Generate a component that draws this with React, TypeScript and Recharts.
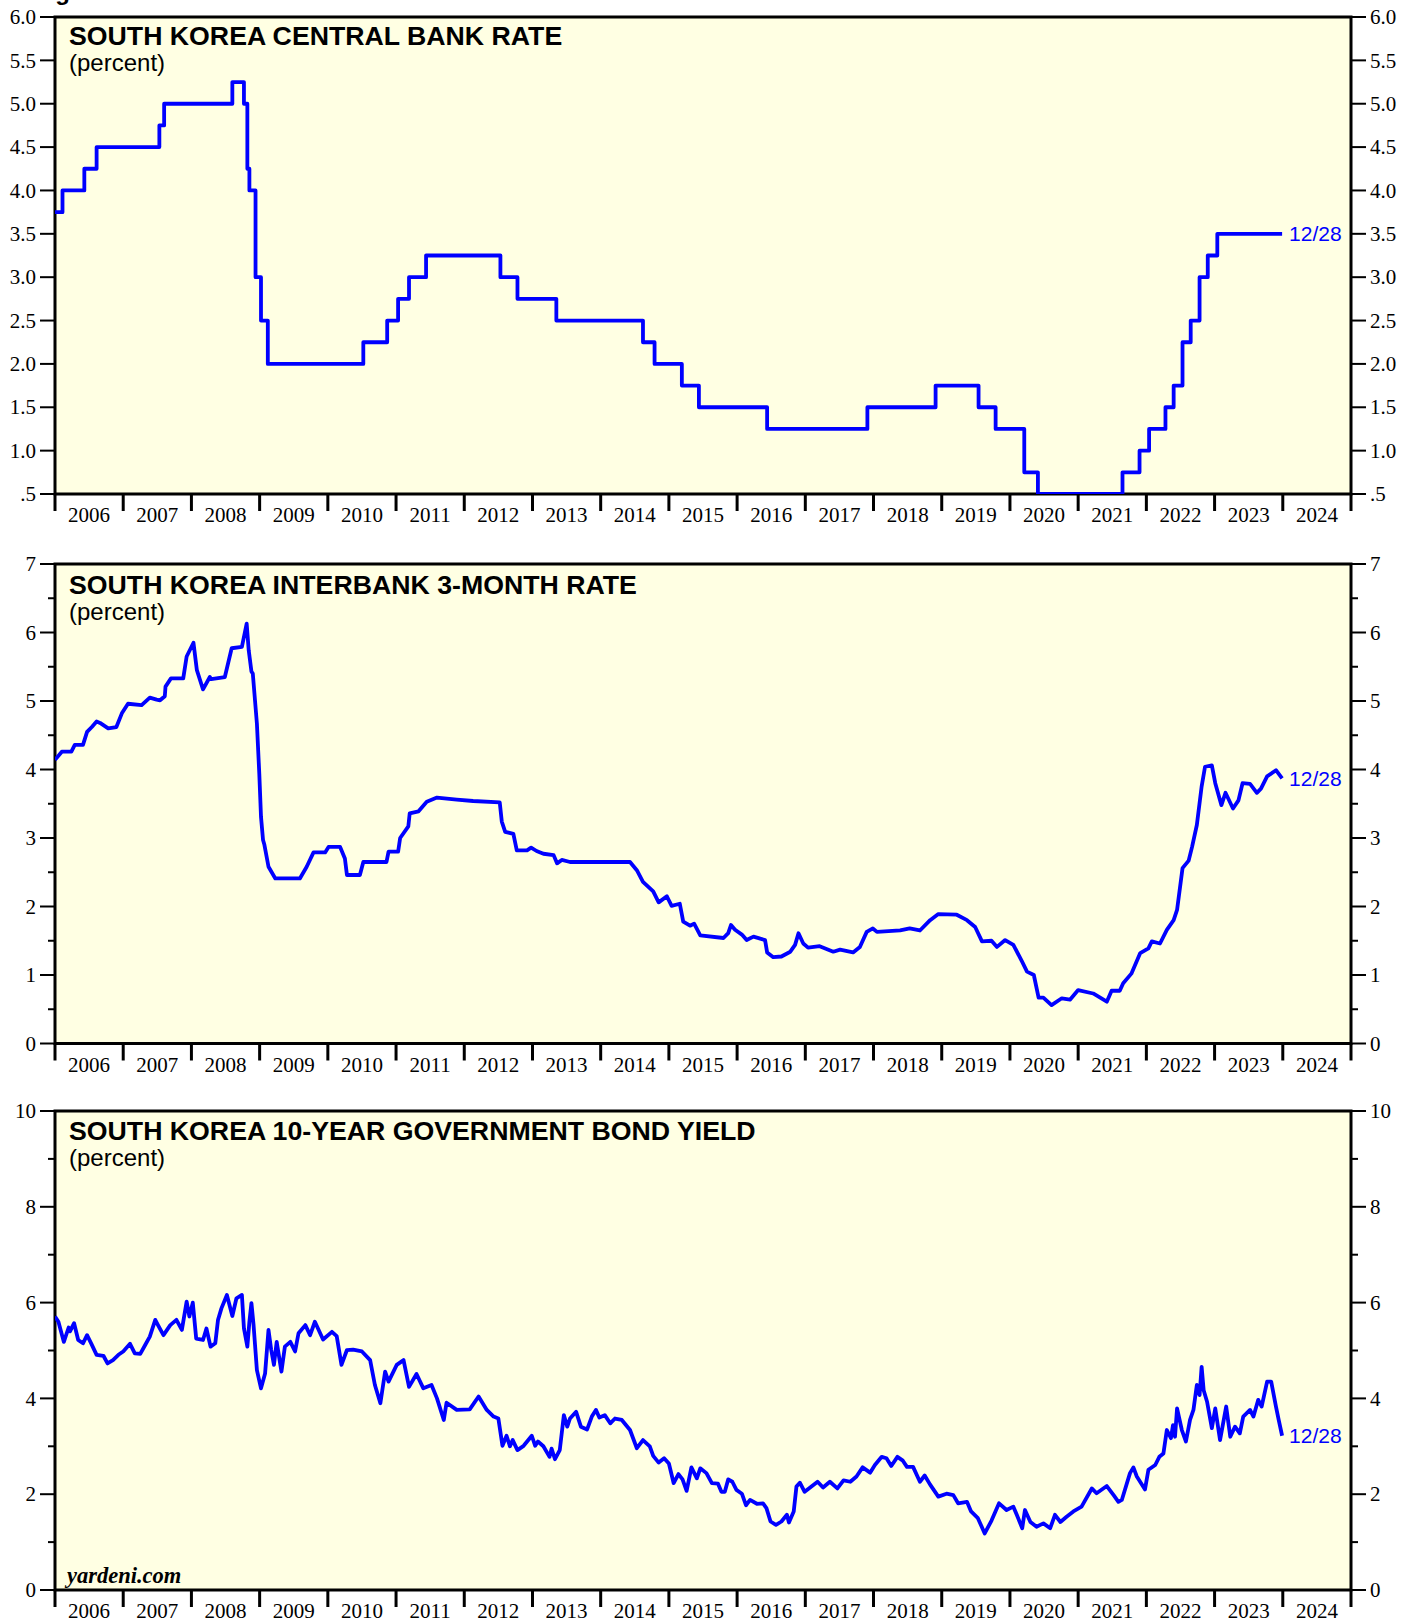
import React from "react";
import { LineChart, Line, XAxis, YAxis, ReferenceArea, CartesianGrid } from "recharts";

// ---------------- data ----------------
const X_START = 2006;
const X_END = 2025;
const LAST_DATE_LABEL = "12/28";

const TITLES = [
  "SOUTH KOREA CENTRAL BANK RATE",
  "SOUTH KOREA INTERBANK 3-MONTH RATE",
  "SOUTH KOREA 10-YEAR GOVERNMENT BOND YIELD",
];
const UNIT_LABEL = "(percent)";
const SOURCE_LABEL = "yardeni.com";
const FIGURE_LABEL = "Figure 1.";

// [decimal year, percent]
const POLICY_RATE: [number, number][] = [
  [2006.0, 3.75], [2006.11, 4.0], [2006.43, 4.25], [2006.61, 4.5], [2007.53, 4.75],
  [2007.6, 5.0], [2008.6, 5.25], [2008.77, 5.0], [2008.82, 4.25], [2008.85, 4.0],
  [2008.94, 3.0], [2009.02, 2.5], [2009.12, 2.0], [2010.52, 2.25], [2010.87, 2.5],
  [2011.03, 2.75], [2011.19, 3.0], [2011.44, 3.25], [2012.53, 3.0], [2012.78, 2.75],
  [2013.35, 2.5], [2014.62, 2.25], [2014.79, 2.0], [2015.19, 1.75], [2015.44, 1.5],
  [2016.44, 1.25], [2017.91, 1.5], [2018.91, 1.75], [2019.54, 1.5], [2019.79, 1.25],
  [2020.21, 0.75], [2020.41, 0.5], [2021.65, 0.75], [2021.9, 1.0], [2022.04, 1.25],
  [2022.28, 1.5], [2022.4, 1.75], [2022.53, 2.25], [2022.65, 2.5], [2022.78, 3.0],
  [2022.9, 3.25], [2023.04, 3.5], [2023.99, 3.5],
];

const INTERBANK_3M: [number, number][] = [
  [2006.0, 4.14], [2006.1, 4.26], [2006.24, 4.26], [2006.29, 4.36], [2006.41, 4.36],
  [2006.47, 4.55], [2006.54, 4.62], [2006.61, 4.7], [2006.66, 4.68], [2006.78, 4.6],
  [2006.9, 4.62], [2006.98, 4.82], [2007.07, 4.96], [2007.27, 4.94], [2007.39, 5.05],
  [2007.49, 5.02], [2007.54, 5.01], [2007.61, 5.07], [2007.62, 5.21], [2007.7, 5.33],
  [2007.88, 5.33], [2007.93, 5.65], [2008.03, 5.85], [2008.08, 5.45], [2008.17, 5.17],
  [2008.27, 5.35], [2008.29, 5.32], [2008.49, 5.35], [2008.59, 5.77], [2008.74, 5.79],
  [2008.81, 6.13], [2008.84, 5.74], [2008.88, 5.43], [2008.9, 5.4], [2008.96, 4.67],
  [2008.995, 3.94], [2009.02, 3.31], [2009.05, 2.97], [2009.07, 2.9], [2009.13, 2.58],
  [2009.23, 2.41], [2009.59, 2.41], [2009.69, 2.58], [2009.79, 2.79], [2009.96, 2.79],
  [2010.01, 2.87], [2010.18, 2.87], [2010.25, 2.7], [2010.28, 2.46], [2010.47, 2.46],
  [2010.52, 2.65], [2010.86, 2.65], [2010.89, 2.8], [2011.03, 2.8], [2011.06, 3.0],
  [2011.18, 3.17], [2011.2, 3.36], [2011.33, 3.39], [2011.45, 3.53], [2011.6, 3.59],
  [2011.89, 3.56], [2012.13, 3.54], [2012.52, 3.52], [2012.55, 3.24], [2012.6, 3.09],
  [2012.72, 3.06], [2012.77, 2.82], [2012.92, 2.82], [2012.98, 2.86], [2013.06, 2.81],
  [2013.16, 2.77], [2013.31, 2.75], [2013.36, 2.63], [2013.43, 2.68], [2013.55, 2.65],
  [2014.43, 2.65], [2014.53, 2.53], [2014.62, 2.36], [2014.77, 2.22], [2014.85, 2.06],
  [2014.97, 2.15], [2015.04, 2.01], [2015.16, 2.04], [2015.21, 1.78], [2015.31, 1.72],
  [2015.37, 1.75], [2015.46, 1.58], [2015.8, 1.54], [2015.87, 1.61], [2015.91, 1.73],
  [2015.97, 1.66], [2016.07, 1.59], [2016.14, 1.51], [2016.24, 1.56], [2016.41, 1.51],
  [2016.44, 1.33], [2016.53, 1.26], [2016.65, 1.27], [2016.78, 1.34], [2016.85, 1.44],
  [2016.9, 1.61], [2016.97, 1.46], [2017.04, 1.4], [2017.21, 1.42], [2017.41, 1.34],
  [2017.51, 1.37], [2017.7, 1.33], [2017.8, 1.41], [2017.9, 1.63], [2017.99, 1.68],
  [2018.05, 1.63], [2018.39, 1.65], [2018.53, 1.68], [2018.68, 1.65], [2018.83, 1.8],
  [2018.95, 1.89], [2019.22, 1.88], [2019.37, 1.8], [2019.49, 1.7], [2019.59, 1.49],
  [2019.73, 1.5], [2019.81, 1.41], [2019.93, 1.51], [2020.05, 1.44], [2020.18, 1.19],
  [2020.25, 1.05], [2020.35, 1.0], [2020.42, 0.67], [2020.49, 0.67], [2020.61, 0.56],
  [2020.76, 0.66], [2020.88, 0.64], [2021.0, 0.78], [2021.22, 0.73], [2021.42, 0.61],
  [2021.49, 0.77], [2021.61, 0.77], [2021.66, 0.88], [2021.78, 1.02], [2021.91, 1.32],
  [2022.03, 1.39], [2022.08, 1.49], [2022.2, 1.46], [2022.3, 1.66], [2022.4, 1.8],
  [2022.45, 1.95], [2022.53, 2.56], [2022.62, 2.67], [2022.67, 2.87], [2022.74, 3.19],
  [2022.81, 3.75], [2022.86, 4.04], [2022.96, 4.06], [2023.01, 3.8], [2023.1, 3.48],
  [2023.16, 3.66], [2023.27, 3.43], [2023.35, 3.55], [2023.41, 3.8], [2023.52, 3.79],
  [2023.62, 3.66], [2023.68, 3.72], [2023.77, 3.9], [2023.9, 3.99], [2023.99, 3.87],
];

const BOND_10Y: [number, number][] = [
  [2006.0, 5.71], [2006.05, 5.6], [2006.13, 5.18], [2006.2, 5.48], [2006.22, 5.4],
  [2006.28, 5.57], [2006.34, 5.22], [2006.41, 5.15], [2006.47, 5.32], [2006.53, 5.15],
  [2006.61, 4.91], [2006.71, 4.89], [2006.77, 4.73], [2006.85, 4.8], [2006.93, 4.91],
  [2007.0, 4.98], [2007.1, 5.14], [2007.17, 4.94], [2007.25, 4.93], [2007.32, 5.11],
  [2007.39, 5.29], [2007.47, 5.64], [2007.51, 5.53], [2007.59, 5.32], [2007.69, 5.53],
  [2007.78, 5.64], [2007.86, 5.43], [2007.93, 6.02], [2007.97, 5.71], [2008.02, 6.0],
  [2008.07, 5.25], [2008.17, 5.22], [2008.22, 5.46], [2008.28, 5.08], [2008.35, 5.15],
  [2008.39, 5.64], [2008.44, 5.88], [2008.52, 6.16], [2008.6, 5.72], [2008.66, 6.09],
  [2008.74, 6.16], [2008.77, 5.46], [2008.82, 5.08], [2008.85, 5.6], [2008.88, 5.99],
  [2008.91, 5.55], [2008.96, 4.59], [2009.02, 4.21], [2009.08, 4.52], [2009.13, 5.43],
  [2009.17, 5.01], [2009.21, 4.7], [2009.25, 5.18], [2009.32, 4.56], [2009.37, 5.08],
  [2009.45, 5.18], [2009.52, 4.98], [2009.57, 5.36], [2009.67, 5.53], [2009.74, 5.32],
  [2009.81, 5.6], [2009.93, 5.23], [2010.06, 5.39], [2010.13, 5.3], [2010.2, 4.7],
  [2010.28, 5.01], [2010.37, 5.02], [2010.5, 4.98], [2010.62, 4.8], [2010.69, 4.28],
  [2010.77, 3.9], [2010.84, 4.56], [2010.89, 4.35], [2011.01, 4.7], [2011.11, 4.8],
  [2011.19, 4.24], [2011.3, 4.51], [2011.4, 4.21], [2011.52, 4.28], [2011.6, 4.0],
  [2011.7, 3.55], [2011.74, 3.91], [2011.89, 3.76], [2012.08, 3.77], [2012.21, 4.04],
  [2012.33, 3.76], [2012.43, 3.62], [2012.5, 3.58], [2012.56, 3.01], [2012.62, 3.22],
  [2012.67, 3.0], [2012.71, 3.13], [2012.78, 2.92], [2012.87, 3.01], [2012.99, 3.22],
  [2013.04, 3.01], [2013.08, 3.1], [2013.16, 3.0], [2013.25, 2.78], [2013.28, 2.95],
  [2013.33, 2.73], [2013.4, 2.92], [2013.46, 3.65], [2013.51, 3.41], [2013.55, 3.58],
  [2013.64, 3.72], [2013.71, 3.41], [2013.8, 3.35], [2013.87, 3.62], [2013.93, 3.76],
  [2013.98, 3.6], [2014.06, 3.65], [2014.14, 3.48], [2014.21, 3.58], [2014.31, 3.55],
  [2014.43, 3.34], [2014.53, 2.96], [2014.62, 3.13], [2014.72, 3.0], [2014.77, 2.8],
  [2014.85, 2.66], [2014.93, 2.75], [2015.0, 2.64], [2015.07, 2.23], [2015.14, 2.42],
  [2015.2, 2.31], [2015.26, 2.07], [2015.33, 2.56], [2015.41, 2.33], [2015.46, 2.54],
  [2015.55, 2.44], [2015.63, 2.23], [2015.72, 2.22], [2015.77, 2.05], [2015.82, 2.05],
  [2015.87, 2.31], [2015.93, 2.26], [2015.99, 2.09], [2016.07, 2.01], [2016.13, 1.77],
  [2016.19, 1.88], [2016.29, 1.8], [2016.38, 1.81], [2016.43, 1.71], [2016.49, 1.43],
  [2016.57, 1.36], [2016.65, 1.43], [2016.73, 1.57], [2016.76, 1.41], [2016.83, 1.64],
  [2016.87, 2.16], [2016.92, 2.24], [2016.99, 2.05], [2017.09, 2.16], [2017.18, 2.26],
  [2017.26, 2.14], [2017.36, 2.26], [2017.47, 2.12], [2017.56, 2.29], [2017.66, 2.26],
  [2017.75, 2.37], [2017.84, 2.56], [2017.95, 2.45], [2018.02, 2.61], [2018.12, 2.78],
  [2018.19, 2.75], [2018.26, 2.59], [2018.35, 2.78], [2018.43, 2.7], [2018.49, 2.57],
  [2018.58, 2.57], [2018.68, 2.26], [2018.75, 2.39], [2018.83, 2.2], [2018.95, 1.95],
  [2019.07, 2.01], [2019.17, 1.98], [2019.24, 1.81], [2019.37, 1.84], [2019.43, 1.64],
  [2019.53, 1.5], [2019.63, 1.18], [2019.73, 1.45], [2019.84, 1.81], [2019.95, 1.67],
  [2020.05, 1.74], [2020.1, 1.57], [2020.18, 1.29], [2020.22, 1.67], [2020.3, 1.42],
  [2020.39, 1.32], [2020.49, 1.39], [2020.59, 1.29], [2020.66, 1.57], [2020.74, 1.42],
  [2020.83, 1.53], [2020.93, 1.64], [2021.05, 1.74], [2021.2, 2.12], [2021.27, 2.02],
  [2021.42, 2.17], [2021.52, 1.98], [2021.59, 1.84], [2021.64, 1.88], [2021.76, 2.44],
  [2021.81, 2.56], [2021.86, 2.37], [2021.98, 2.1], [2022.03, 2.51], [2022.13, 2.61],
  [2022.19, 2.78], [2022.25, 2.85], [2022.3, 3.34], [2022.36, 3.17], [2022.39, 3.44],
  [2022.42, 3.2], [2022.45, 3.79], [2022.52, 3.34], [2022.58, 3.1], [2022.64, 3.55],
  [2022.69, 3.76], [2022.74, 4.28], [2022.78, 4.07], [2022.81, 4.66], [2022.84, 4.17],
  [2022.89, 3.93], [2022.96, 3.38], [2023.01, 3.79], [2023.08, 3.13], [2023.17, 3.83],
  [2023.23, 3.2], [2023.3, 3.41], [2023.37, 3.27], [2023.42, 3.62], [2023.52, 3.76],
  [2023.57, 3.62], [2023.64, 3.97], [2023.69, 3.83], [2023.77, 4.35], [2023.83, 4.35],
  [2023.9, 3.83], [2023.94, 3.55], [2023.99, 3.22],
];

const Y_TICKS_1 = [0.5, 1, 1.5, 2, 2.5, 3, 3.5, 4, 4.5, 5, 5.5, 6];
const Y_TICKS_2 = [0, 0.5, 1, 1.5, 2, 2.5, 3, 3.5, 4, 4.5, 5, 5.5, 6, 6.5, 7];
const Y_TICKS_3 = [0, 1, 2, 3, 4, 5, 6, 7, 8, 9, 10];

// ---------------- styling ----------------
const BG = "#FFFFE3";
const BLUE = "#0000FF";
const SERIF = '"Liberation Serif", "Times New Roman", serif';
const SANS = '"Liberation Sans", Arial, sans-serif';

const makeYTick = (side: "left" | "right", isMajor: (v: number) => boolean, fmt: (v: number) => string) =>
  (props: any) => {
    const { x, y, payload } = props;
    const v = payload.value as number;
    const major = isMajor(v);
    const dir = side === "left" ? -1 : 1;
    const len = major ? 15 : 7;
    return (
      <g>
        <line x1={x} y1={y} x2={x + dir * len} y2={y} stroke="#000" strokeWidth={2} />
        {major ? (
          <text
            x={x + dir * 19}
            y={y}
            dy="0.34em"
            textAnchor={side === "left" ? "end" : "start"}
            fontFamily={SERIF}
            fontSize={21}
            fill="#000"
          >
            {fmt(v)}
          </text>
        ) : null}
      </g>
    );
  };

const XTick = (props: any) => {
  const { x, y, payload } = props;
  const v = payload.value as number;
  if (Number.isInteger(v)) {
    return <line x1={x} y1={y} x2={x} y2={y + 17} stroke="#000" strokeWidth={3} />;
  }
  return (
    <text x={x} y={y + 28} textAnchor="middle" fontFamily={SERIF} fontSize={21} fill="#000">
      {Math.floor(v)}
    </text>
  );
};

const X_TICKS: number[] = [];
for (let yr = X_START; yr <= X_END; yr++) {
  X_TICKS.push(yr);
  if (yr < X_END) X_TICKS.push(yr + 0.5);
}

type PanelProps = {
  top: number;
  height: number;
  mTop: number;
  mBottom: number;
  series: [number, number][];
  step?: boolean;
  yMin: number;
  yMax: number;
  yTicks: number[];
  isMajor: (v: number) => boolean;
  fmt: (v: number) => string;
};

function Panel(p: PanelProps) {
  const data = p.series.map(([x, v]) => ({ x, v }));
  const last = data.length - 1;
  const endLabel = (lp: any) => {
    if (lp.index !== last) return null;
    return (
      <text x={lp.x + 7} y={lp.y} dy="0.36em" fill={BLUE} fontFamily={SANS} fontSize={21}>
        {LAST_DATE_LABEL}
      </text>
    );
  };
  return (
    <div style={{ position: "absolute", left: 0, top: p.top }}>
      <LineChart
        width={1416}
        height={p.height}
        data={data}
        margin={{ top: p.mTop, right: 15, bottom: p.mBottom, left: 5 }}
      >
        <CartesianGrid yAxisId="left" fill={BG} horizontal={false} vertical={false} stroke="none" />
        <XAxis
          dataKey="x"
          type="number"
          domain={[X_START, X_END]}
          allowDataOverflow
          ticks={X_TICKS}
          interval={0}
          tick={XTick}
          tickLine={false}
          axisLine={false}
          tickSize={0}
          tickMargin={0}
          height={32}
        />
        <YAxis
          yAxisId="left"
          orientation="left"
          type="number"
          domain={[p.yMin, p.yMax]}
          allowDataOverflow
          ticks={p.yTicks}
          interval={0}
          tick={makeYTick("left", p.isMajor, p.fmt)}
          tickLine={false}
          axisLine={false}
          tickSize={0}
          tickMargin={0}
          width={50}
        />
        <YAxis
          yAxisId="right"
          orientation="right"
          type="number"
          domain={[p.yMin, p.yMax]}
          allowDataOverflow
          ticks={p.yTicks}
          interval={0}
          tick={makeYTick("right", p.isMajor, p.fmt)}
          tickLine={false}
          axisLine={false}
          tickSize={0}
          tickMargin={0}
          width={50}
        />
        <ReferenceArea
          yAxisId="left"
          x1={X_START}
          x2={X_END}
          y1={p.yMin}
          y2={p.yMax}
          fill="none"
          fillOpacity={0}
          stroke="#000"
          strokeWidth={3}
          ifOverflow="visible"
        />
        <Line
          yAxisId="left"
          type={p.step ? "stepAfter" : "linear"}
          dataKey="v"
          stroke={BLUE}
          strokeWidth={3.8}
          strokeLinejoin="round"
          dot={false}
          activeDot={false}
          isAnimationActive={false}
          label={endLabel}
        />
      </LineChart>
    </div>
  );
}

const TITLE_POS = [
  { y: 44.5, sub: 70.5 },
  { y: 594, sub: 620 },
  { y: 1139.5, sub: 1165.5 },
];

export default function App() {
  return (
    <div style={{ position: "absolute", left: 0, top: 0, width: 1416, height: 1623, background: "#fff", overflow: "hidden" }}>
      <Panel
        top={0}
        height={530}
        mTop={17}
        mBottom={4}
        series={POLICY_RATE}
        step
        yMin={0.5}
        yMax={6}
        yTicks={Y_TICKS_1}
        isMajor={() => true}
        fmt={(v) => (v === 0.5 ? ".5" : v.toFixed(1))}
      />
      <Panel
        top={530}
        height={546}
        mTop={34}
        mBottom={0.5}
        series={INTERBANK_3M}
        yMin={0}
        yMax={7}
        yTicks={Y_TICKS_2}
        isMajor={(v) => Number.isInteger(v)}
        fmt={(v) => String(v)}
      />
      <Panel
        top={1076}
        height={547}
        mTop={35}
        mBottom={1}
        series={BOND_10Y}
        yMin={0}
        yMax={10}
        yTicks={Y_TICKS_3}
        isMajor={(v) => v % 2 === 0}
        fmt={(v) => String(v)}
      />
      <svg
        width={1416}
        height={1623}
        style={{ position: "absolute", left: 0, top: 0, pointerEvents: "none" }}
      >
        <text x={34} y={-0.5} fontFamily={SANS} fontWeight="bold" fontSize={24} fill="#000">
          {FIGURE_LABEL}
        </text>
        {TITLES.map((t, i) => (
          <g key={t}>
            <text x={69} y={TITLE_POS[i].y} fontFamily={SANS} fontWeight="bold" fontSize={26.7} fill="#000">
              {t}
            </text>
            <text x={69} y={TITLE_POS[i].sub} fontFamily={SANS} fontSize={24} fill="#000">
              {UNIT_LABEL}
            </text>
          </g>
        ))}
        <text x={67} y={1583} fontFamily={SERIF} fontWeight="bold" fontStyle="italic" fontSize={22.5} fill="#000">
          {SOURCE_LABEL}
        </text>
      </svg>
    </div>
  );
}
